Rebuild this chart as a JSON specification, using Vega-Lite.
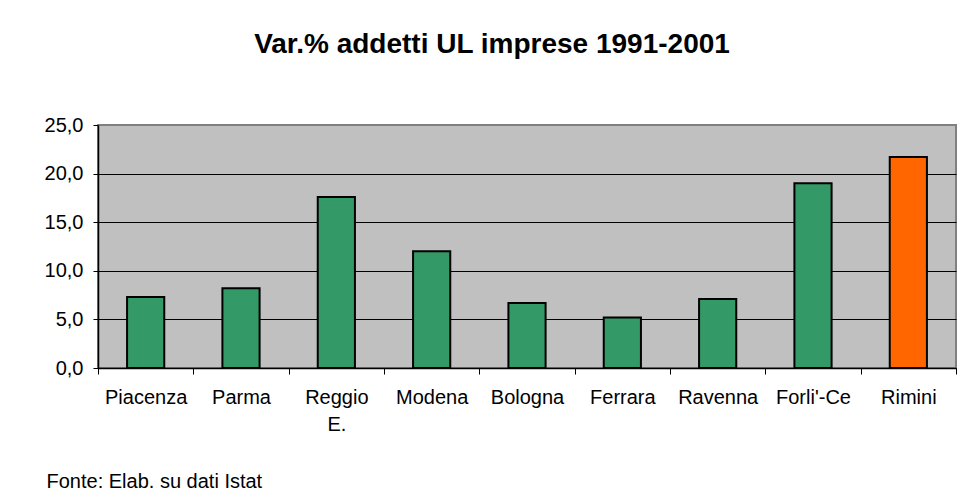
{
  "$schema": "https://vega.github.io/schema/vega-lite/v6.json",
  "width": 858,
  "height": 243,
  "autosize": {"type": "none"},
  "padding": {"left": 98, "top": 125, "right": 11, "bottom": 130},
  "background": "white",
  "title": {
    "text": "Var.% addetti UL imprese 1991-2001",
    "anchor": "middle",
    "frame": "group",
    "dx": -35,
    "offset": 34,
    "baseline": "alphabetic",
    "font": "Liberation Sans",
    "fontSize": 28,
    "fontWeight": "bold",
    "color": "black"
  },
  "data": {
    "values": [
      {"provincia": "Piacenza", "var": 7.3},
      {"provincia": "Parma", "var": 8.2},
      {"provincia": "Reggio E.", "var": 17.6},
      {"provincia": "Modena", "var": 12.0},
      {"provincia": "Bologna", "var": 6.7},
      {"provincia": "Ferrara", "var": 5.2},
      {"provincia": "Ravenna", "var": 7.1},
      {"provincia": "Forli'-Ce", "var": 19.0},
      {"provincia": "Rimini", "var": 21.7}
    ]
  },
  "mark": {"type": "bar", "stroke": "black", "strokeWidth": 2, "width": {"band": 0.39}},
  "encoding": {
    "x": {
      "field": "provincia",
      "type": "nominal",
      "sort": null,
      "scale": {"paddingInner": 0, "paddingOuter": 0},
      "axis": {
        "title": "Fonte: Elab. su dati Istat",
        "titleAnchor": "start",
        "titleAlign": "left",
        "titleX": -52,
        "titleY": 119,
        "titleBaseline": "alphabetic",
        "titleFont": "Liberation Sans",
        "titleFontSize": 20,
        "titleFontWeight": "normal",
        "titleColor": "black",
        "labelAngle": 0,
        "labelFont": "Liberation Sans",
        "labelFontSize": 20,
        "labelColor": "black",
        "labelPadding": 13,
        "labelLineHeight": 27,
        "labelBaseline": "top",
        "labelExpr": "datum.label == 'Reggio E.' ? ['Reggio', 'E.'] : datum.label",
        "tickBand": "extent",
        "tickSize": 6,
        "tickColor": "black",
        "domainColor": "black",
        "domainWidth": 1.5,
        "grid": false
      }
    },
    "y": {
      "field": "var",
      "type": "quantitative",
      "scale": {"domain": [0, 25], "nice": false},
      "axis": {
        "title": null,
        "values": [0, 5, 10, 15, 20, 25],
        "labelExpr": "replace(format(datum.value, '.1f'), '.', ',')",
        "labelFont": "Liberation Sans",
        "labelFontSize": 20,
        "labelColor": "black",
        "labelPadding": 10,
        "tickSize": 5,
        "tickColor": "black",
        "domainColor": "black",
        "domainWidth": 1.5,
        "grid": true,
        "gridColor": {"condition": {"test": "datum.value == 25", "value": "#808080"}, "value": "black"},
        "gridWidth": 1
      }
    },
    "color": {
      "condition": {"test": "datum.provincia == 'Rimini'", "value": "#FF6600"},
      "value": "#339966"
    }
  },
  "config": {
    "view": {"fill": "#C0C0C0", "stroke": "#808080", "strokeWidth": 2}
  }
}
